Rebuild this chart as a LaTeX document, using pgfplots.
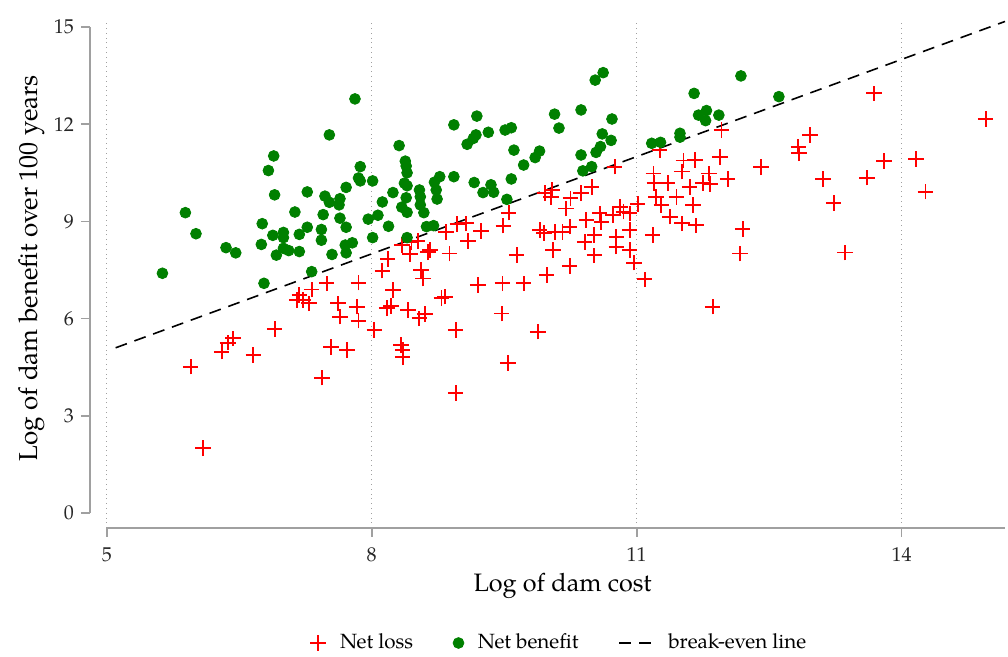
\documentclass[border=0pt]{standalone}
\usepackage{fontspec}
\setmainfont{texgyrepagella}[Extension=.otf, UprightFont=*-regular, BoldFont=*-bold, ItalicFont=*-italic, BoldItalicFont=*-bolditalic]
\usepackage{pgfplots}
\pgfplotsset{compat=1.18}

\definecolor{lossred}{RGB}{255,0,0}
\definecolor{gaingreen}{RGB}{0,128,0}
\definecolor{axgray}{RGB}{160,160,160}

% plus sign drawn as one explicit red path
\pgfdeclareplotmark{redplus}{%
  \pgfsetstrokecolor{lossred}%
  \pgfpathmoveto{\pgfqpoint{-\pgfplotmarksize}{0pt}}%
  \pgfpathlineto{\pgfqpoint{\pgfplotmarksize}{0pt}}%
  \pgfpathmoveto{\pgfqpoint{0pt}{-\pgfplotmarksize}}%
  \pgfpathlineto{\pgfqpoint{0pt}{\pgfplotmarksize}}%
  \pgfusepathqstroke}

\begin{document}
\begin{tikzpicture}
% fixed page frame, same proportions as the reference
\useasboundingbox (-45pt,-64.5pt) rectangle (459pt,264pt);
\begin{axis}[
  scale only axis, width=457.5pt, height=253.75pt,
  xmin=4.81, xmax=15.17, ymin=-0.46, ymax=15.2,
  axis x line*=bottom, axis y line*=left,
  axis line style={draw=none},
  xtick={5,8,11,14}, ytick={0,3,6,9,12,15},
  tick align=outside, major tick length=4.5pt,
  tick style={axgray, line width=0.8pt},
  xmajorgrids, grid style={axgray, dotted, line width=0.5pt},
  /pgf/number format/assume math mode=true,
  tick label style={font=\fontsize{10}{12}\selectfont, black!85},
  xticklabel style={yshift=-2pt},
  xlabel={Log of dam cost}, ylabel={Log of dam benefit over 100 years},
  xlabel style={font=\fontsize{12.6}{15}\selectfont, xshift=7.5pt},
  ylabel style={font=\fontsize{13}{15}\selectfont, xshift=3pt},
  xlabel shift=-1.5pt, ylabel shift=-2.5pt,
  legend style={draw=none, fill=none, at={(0.514,-0.2266)}, anchor=center,
    font=\fontsize{10.3}{12}\selectfont, legend columns=3,
    /tikz/every odd column/.append style={column sep=5pt},
    /tikz/every even column/.append style={column sep=18pt}},
  clip=false,
]
\draw[axgray, line width=1pt] (axis cs:5,-0.46) -- (axis cs:15.17,-0.46);
\draw[axgray, line width=1pt] (axis cs:4.81,0) -- (axis cs:4.81,15);

\addplot[only marks, mark=redplus, mark size=3.9pt, color=lossred,
         mark options={solid, line width=0.95pt}]
  coordinates {
  (8.45,8.37) (8.52,8.40) (8.43,7.99) (8.64,8.05) (8.66,8.12) (8.88,8.01)
  (8.84,8.68) (8.97,8.92) (9.07,8.94) (9.09,8.40) (9.24,8.71) (9.49,8.87)
  (9.55,9.27) (9.64,7.96) (9.90,8.73) (9.95,8.65) (9.96,9.87) (10.04,9.97)
  (10.03,9.75) (10.07,8.68) (10.16,8.68) (10.20,9.40) (10.25,9.71) (10.37,9.87)
  (10.49,10.07) (10.24,8.84) (10.43,9.04) (10.58,9.25) (10.60,8.99) (10.52,8.58)
  (10.41,8.37) (10.52,7.95) (10.05,8.12) (10.73,9.20) (10.81,9.45) (10.85,9.30)
  (10.92,9.25) (10.75,10.69) (11.01,9.54) (10.92,8.73) (10.77,8.53) (10.77,8.22)
  (10.92,8.12) (11.18,8.58) (11.19,10.48) (11.20,10.18) (11.26,11.20) (11.22,9.76)
  (11.28,9.51) (11.35,10.18) (11.45,9.76) (11.38,9.15) (11.51,8.94) (11.53,10.88)
  (11.51,10.54) (11.66,10.90) (11.60,10.07) (11.64,9.51) (11.67,8.88)
  (13.69,12.95) (14.95,12.16) (11.96,11.82) (12.96,11.67) (12.83,11.31) (12.84,11.10)
  (11.94,10.98) (11.82,10.48) (12.03,10.31) (12.41,10.67) (11.75,10.18) (11.83,10.16)
  (12.20,8.76) (12.17,8.01) (13.80,10.86) (13.61,10.35) (14.16,10.93) (13.11,10.30)
  (14.27,9.92) (13.23,9.56) (13.36,8.04) (11.86,6.37) (10.97,7.73) (11.09,7.21)
  (8.56,7.50) (8.58,7.24) (9.20,7.04) (9.48,7.09) (9.72,7.09) (9.98,7.35)
  (10.24,7.62) (8.79,6.63) (8.83,6.68) (8.41,6.27) (8.54,6.01) (8.60,6.14)
  (8.95,5.65) (9.47,6.16) (9.88,5.60) (8.33,5.19) (8.35,5.03) (8.35,4.81)
  (9.54,4.64) (8.95,3.71) (8.18,7.84) (8.12,7.48) (7.85,7.11) (7.49,7.09)
  (7.32,6.90) (7.18,6.73) (7.15,6.57) (7.22,6.57) (7.29,6.47) (7.62,6.47)
  (7.83,6.37) (7.64,6.06) (7.85,5.94) (8.24,6.88) (8.17,6.32) (8.22,6.39)
  (8.03,5.65) (6.90,5.68) (6.43,5.39) (6.37,5.26) (6.30,4.98) (6.66,4.88)
  (5.95,4.52) (7.54,5.13) (7.72,5.03) (7.44,4.18) (6.09,2.00) (8.34,8.27)
  };
\addlegendentry{Net loss}

\addplot[only marks, mark=*, mark size=2.7pt, color=gaingreen,
         mark options={solid, draw=gaingreen, fill=gaingreen}]
  coordinates {
  (5.89,9.27) (6.01,8.62) (6.35,8.19) (6.46,8.03) (7.81,12.78) (7.52,11.67)
  (6.89,11.02) (6.83,10.57) (6.90,9.82) (7.13,9.29) (7.27,9.91) (6.76,8.93)
  (6.88,8.57) (7.00,8.66) (7.00,8.50) (6.75,8.29) (6.92,7.96) (7.00,8.17)
  (7.06,8.10) (7.18,8.07) (7.18,8.60) (7.27,8.82) (7.43,8.75) (7.43,8.42)
  (7.45,9.21) (7.47,9.78) (7.52,9.59) (7.64,9.70) (7.63,9.51) (7.64,9.10)
  (7.71,10.05) (7.71,8.82) (7.70,8.27) (7.78,8.34) (7.71,8.03) (7.55,7.98)
  (7.87,10.69) (7.85,10.34) (7.87,10.25) (8.01,10.25) (7.96,9.07) (8.07,9.19)
  (8.01,8.50) (8.12,9.60) (8.19,8.85) (8.24,9.89) (8.31,11.34) (8.38,10.86)
  (8.39,10.71) (8.40,10.50) (8.37,10.18) (8.40,10.10) (8.39,9.73) (8.34,9.44)
  (8.40,9.28) (8.40,8.50) (8.54,9.97) (8.55,9.76) (8.55,9.51) (8.59,9.27)
  (8.62,8.84) (8.70,8.87) (8.71,10.21) (8.77,10.38) (8.73,9.97) (8.74,9.69)
  (8.93,11.98) (8.93,10.38) (9.19,12.25) (9.18,11.67) (9.15,11.56) (9.08,11.38)
  (9.32,11.75) (9.16,10.20) (9.26,9.89) (9.35,10.13) (9.38,9.90) (9.51,11.82)
  (9.58,11.89) (9.61,11.20) (9.72,10.74) (9.58,10.31) (9.53,9.68) (9.85,10.97)
  (9.90,11.17) (10.07,12.31) (10.12,11.88) (10.37,12.44) (10.37,11.05) (10.39,10.56)
  (10.49,10.69) (10.53,13.36) (10.62,13.59) (10.72,12.16) (10.61,11.70) (10.71,11.50)
  (10.59,11.31) (10.54,11.13) (11.17,11.41) (11.27,11.44) (11.49,11.72) (11.49,11.60)
  (11.65,12.95) (11.70,12.28) (12.18,13.49) (12.61,12.85) (11.79,12.42) (11.78,12.11)
  (11.93,12.28) (5.63,7.40) (6.78,7.09) (7.32,7.45)
  };
\addlegendentry{Net benefit}

\addplot[black, line width=0.8pt, dash pattern=on 6pt off 4pt, mark=none]
  coordinates {(5.1,5.1) (15.17,15.17)};
\addlegendentry{break-even line}
\end{axis}
\end{tikzpicture}
\end{document}
